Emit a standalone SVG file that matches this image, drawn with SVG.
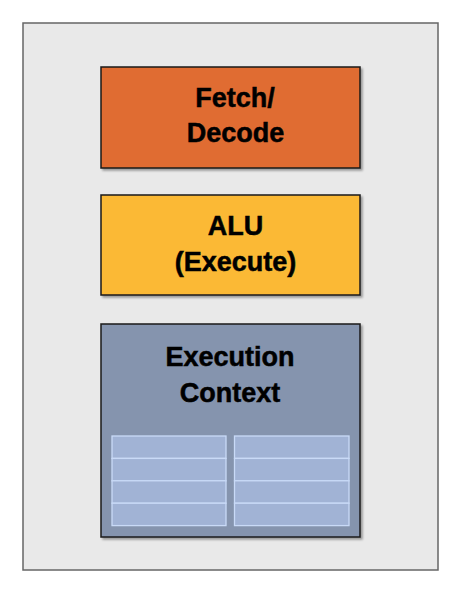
<svg xmlns="http://www.w3.org/2000/svg" width="462" height="596" viewBox="0 0 462 596">
<defs>
<filter id="sh" x="-10%" y="-10%" width="130%" height="130%">
<feGaussianBlur in="SourceAlpha" stdDeviation="1.2"/>
<feOffset dx="1.5" dy="2" result="b"/>
<feComponentTransfer><feFuncA type="linear" slope="0.35"/></feComponentTransfer>
<feMerge><feMergeNode/><feMergeNode in="SourceGraphic"/></feMerge>
</filter>
<style>
.box{stroke:#1a1a1a;stroke-width:1.5;filter:url(#sh)}
.t{font-family:"Liberation Sans",Arial,sans-serif;font-weight:bold;font-size:27px;fill:#000;stroke:#000;stroke-width:0.5;text-anchor:middle}
.reg{fill:#A1B3D5;stroke:#C9DAF7;stroke-width:1.3}
</style>
</defs>
<rect x="23" y="23" width="415" height="547" fill="#E9E9E9" stroke="#666" stroke-width="1.5"/>
<g id="fetch">
<rect class="box" x="101" y="67" width="259" height="101" fill="#E06C32"/>
<text class="t" x="235" y="107">Fetch/</text>
<text class="t" x="235.5" y="142">Decode</text>
</g>
<g id="alu">
<rect class="box" x="101" y="195" width="259" height="100" fill="#FBB934"/>
<text class="t" x="235.5" y="235">ALU</text>
<text class="t" x="235.5" y="271">(Execute)</text>
</g>
<g id="context">
<rect class="box" x="101" y="324" width="259" height="213" fill="#8594AE"/>
<text class="t" x="230" y="366">Execution</text>
<text class="t" x="230" y="402">Context</text>
<rect class="reg" x="112" y="436" width="114" height="22.4"/>
<rect class="reg" x="112" y="458.4" width="114" height="22.4"/>
<rect class="reg" x="112" y="480.8" width="114" height="22.4"/>
<rect class="reg" x="112" y="503.2" width="114" height="22.4"/>
<rect class="reg" x="234.5" y="436" width="114.5" height="22.4"/>
<rect class="reg" x="234.5" y="458.4" width="114.5" height="22.4"/>
<rect class="reg" x="234.5" y="480.8" width="114.5" height="22.4"/>
<rect class="reg" x="234.5" y="503.2" width="114.5" height="22.4"/>
</g>
<g id="connectors"/>
</svg>
